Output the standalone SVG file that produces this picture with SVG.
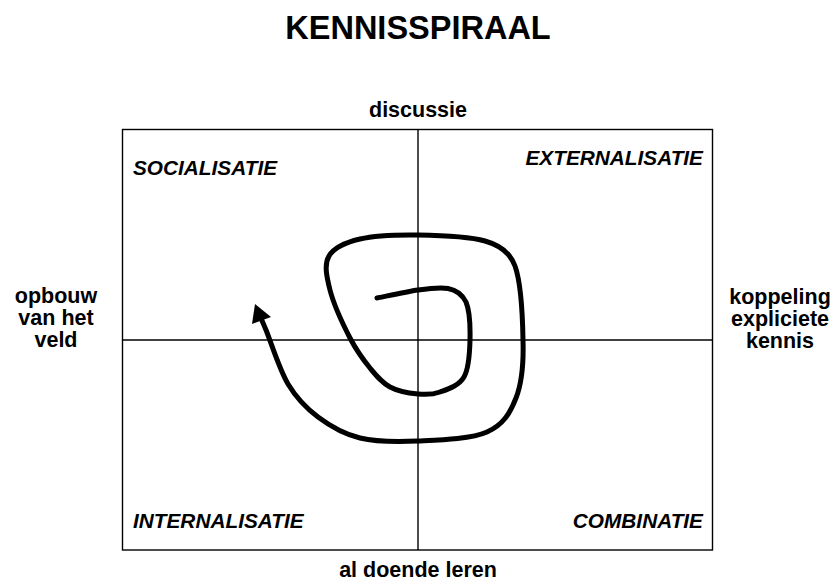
<svg xmlns="http://www.w3.org/2000/svg" width="836" height="583" viewBox="0 0 836 583">
<style>
.t{font-family:"Liberation Sans",Arial,sans-serif;font-weight:bold;fill:#000}
.title{font-size:32.5px;text-anchor:middle}
.ax{font-size:21.5px;text-anchor:middle}
.q{font-size:20.8px;font-style:italic}
.ln{stroke:#000;stroke-width:1.4;fill:none}
.sp{stroke:#000;stroke-width:5;fill:none;stroke-linecap:round;stroke-linejoin:round}
</style>
<rect width="836" height="583" fill="#fff"/>
<g id="title"><text class="t title" x="418" y="39">KENNISSPIRAAL</text></g>
<g id="frame">
<rect class="ln" x="122.5" y="129.5" width="590" height="420.5"/>
<line class="ln" x1="418" y1="129.5" x2="418" y2="550"/>
<line class="ln" x1="122.5" y1="340" x2="712.5" y2="340"/>
</g>
<g id="axis-top"><text class="t ax" x="418" y="117">discussie</text></g>
<g id="axis-bottom"><text class="t ax" x="418" y="577">al doende leren</text></g>
<g id="axis-left"><text class="t ax" x="56" y="303"><tspan x="56">opbouw</tspan><tspan x="56" dy="22">van het</tspan><tspan x="56" dy="22">veld</tspan></text></g>
<g id="axis-right"><text class="t ax" x="780" y="304"><tspan x="780">koppeling</tspan><tspan x="780" dy="22">expliciete</tspan><tspan x="780" dy="22">kennis</tspan></text></g>
<g id="q-socialisatie"><text class="t q" x="133" y="175">SOCIALISATIE</text></g>
<g id="q-externalisatie"><text class="t q" x="703" y="165" text-anchor="end">EXTERNALISATIE</text></g>
<g id="q-internalisatie"><text class="t q" x="133" y="528">INTERNALISATIE</text></g>
<g id="q-combinatie"><text class="t q" x="703" y="528" text-anchor="end">COMBINATIE</text></g>
<g id="connectors">
<path class="sp" d="M377,298 C383.8,296.7 406.2,291.7 418,290 C429.8,288.3 440,287 448,288.5 C456,290 462,294 466,302 C469.7,310.7 470.3,327.5 470,340 C469.7,352.5 469,368.3 464,377 C459,385.7 447.7,389.2 440,392 C432.3,394.8 426.3,394.8 418,394 C409.7,393.2 398,391.3 390,387 C382,382.7 376.7,376.2 370,368 C363.3,359.8 356.7,351 350,338 C343.3,325 333.5,303.7 330,290 C326.5,276.3 324,264.5 329,256 C334,247.5 345.2,242.5 360,239 C374.8,235.5 397.2,234.7 418,235 C438.8,235.3 469.3,236.5 485,241 C498,244.7 510,252 515,266 C520,280 522.5,310 523,340 C523.7,362.7 522,382.7 516,398 C510,413.3 503.3,424.8 487,432 C470.7,439.2 439.2,440 418,441 C396.8,442 376.7,442 360,438 C343.3,434 330,426 318,417 C306,408 296.7,398.5 288,384 C279.3,369.5 270.7,341.3 266,330 C261.3,318.7 261,318.3 260,316"/>
<polygon points="255,304 252,324 271,317" fill="#000"/>
</g>
</svg>
